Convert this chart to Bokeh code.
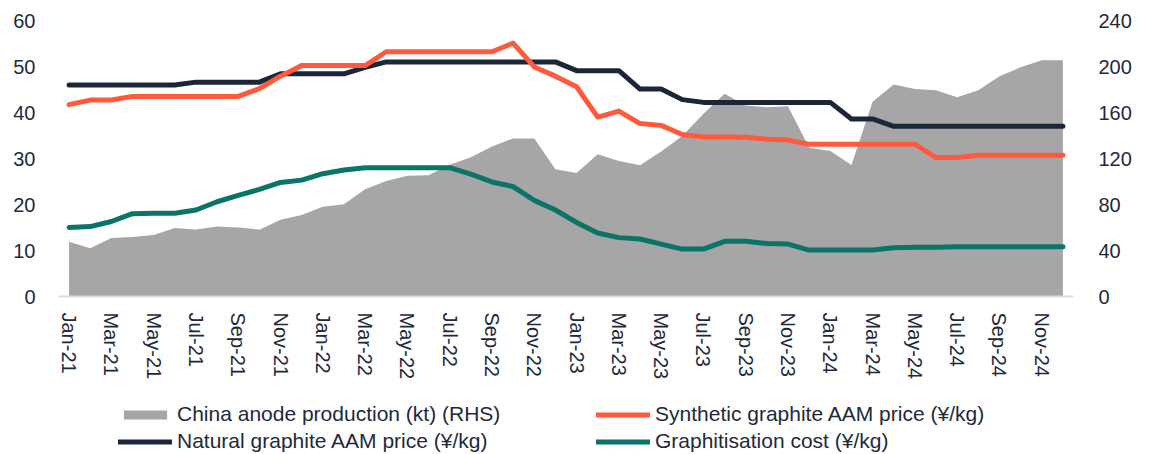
from bokeh.plotting import figure
from bokeh.models import Range1d, LinearAxis, FixedTicker, Legend, LegendItem, ColumnDataSource
from bokeh.layouts import column
from bokeh.embed import file_html
from bokeh.resources import INLINE

months = [f"{m}-{y}" for y in ["21", "22", "23", "24"] for m in
          ["Jan", "Feb", "Mar", "Apr", "May", "Jun", "Jul", "Aug", "Sep", "Oct", "Nov", "Dec"]]

production = [47.7, 41.9, 50.8, 51.7, 53.4, 59.5, 58.3, 60.9, 60.1, 58.1, 66.7, 70.8,
              78.0, 80.3, 93.3, 100.5, 105.0, 105.5, 114.5, 121.0, 130.5, 137.5, 137.5, 110.7,
              107.5, 123.7, 117.9, 114.2, 126.0, 139.5, 159.0, 176.3, 166.0, 164.6, 165.5, 129.4,
              126.5, 114.4, 169.3, 184.3, 180.5, 179.4, 173.3, 179.4, 191.5, 199.3, 205.4, 205.4]

synthetic = [41.7, 42.7, 42.7, 43.5, 43.5, 43.5, 43.5, 43.5, 43.5, 45.2, 47.9, 50.2,
             50.2, 50.2, 50.2, 53.2, 53.2, 53.2, 53.2, 53.2, 53.2, 55.1, 49.9, 47.9,
             45.6, 39.0, 40.3, 37.6, 37.2, 35.2, 34.7, 34.7, 34.6, 34.2, 34.0, 33.1,
             33.1, 33.1, 33.1, 33.1, 33.1, 30.2, 30.2, 30.7, 30.7, 30.7, 30.7, 30.7]

natural = [46.0, 46.0, 46.0, 46.0, 46.0, 46.0, 46.6, 46.6, 46.6, 46.6, 48.4, 48.4,
           48.4, 48.4, 49.8, 51.0, 51.0, 51.0, 51.0, 51.0, 51.0, 51.0, 51.0, 51.0,
           49.1, 49.1, 49.1, 45.1, 45.1, 42.8, 42.2, 42.2, 42.2, 42.2, 42.2, 42.2,
           42.2, 38.6, 38.6, 37.0, 37.0, 37.0, 37.0, 37.0, 37.0, 37.0, 37.0, 37.0]

graphitisation = [15.0, 15.2, 16.3, 18.0, 18.1, 18.1, 18.8, 20.6, 22.0, 23.3, 24.8, 25.3,
                  26.7, 27.5, 28.0, 28.0, 28.0, 28.0, 28.0, 26.6, 24.9, 23.9, 20.9, 18.8,
                  16.1, 13.8, 12.8, 12.5, 11.4, 10.3, 10.3, 12.0, 12.0, 11.5, 11.4, 10.1,
                  10.1, 10.1, 10.1, 10.6, 10.7, 10.7, 10.8, 10.8, 10.8, 10.8, 10.8, 10.8]

left_ticks = [0, 10, 20, 30, 40, 50, 60]
right_ticks = [0, 40, 80, 120, 160, 200, 240]

series_labels = ["China anode production (kt) (RHS)", "Natural graphite AAM price (¥/kg)",
                 "Synthetic graphite AAM price (¥/kg)", "Graphitisation cost (¥/kg)"]

TEXT = "#1e2a3b"
FONT = "Liberation Sans"
C_AREA = "#a6a6a6"
C_NAT = "#1c2639"
C_SYN = "#ff5a3e"
C_GRA = "#0a7567"

x = list(range(len(months)))
src = ColumnDataSource(dict(x=x, prod=production, syn=synthetic, nat=natural, gra=graphitisation,
                            zero=[0] * len(x)))

p = figure(width=1150, height=383, output_backend="svg", toolbar_location=None,
           x_range=Range1d(-0.5, len(months) - 0.5), y_range=Range1d(0, 60),
           min_border_left=58, min_border_right=77, min_border_top=20, min_border_bottom=87)
p.outline_line_color = None
p.xgrid.visible = False
p.ygrid.visible = False
p.extra_y_ranges = {"rhs": Range1d(0, 240)}

p.varea(x="x", y1="zero", y2="prod", source=src, y_range_name="rhs", fill_color=C_AREA)
p.line(x="x", y="nat", source=src, line_color=C_NAT, line_width=5, line_cap="round", line_join="round")
p.line(x="x", y="syn", source=src, line_color=C_SYN, line_width=5, line_cap="round", line_join="round")
p.line(x="x", y="gra", source=src, line_color=C_GRA, line_width=5, line_cap="round", line_join="round")

# x axis
xa = p.xaxis[0]
xa.ticker = FixedTicker(ticks=list(range(0, len(months), 2)))
xa.major_label_overrides = {i: months[i] for i in range(0, len(months), 2)}
xa.major_label_orientation = "vertical"
xa.axis_line_color = "#d6dee9"
xa.axis_line_width = 2
xa.major_tick_line_color = None
xa.minor_tick_line_color = None
xa.major_label_standoff = 10
xa.major_label_text_font = FONT
xa.major_label_text_font_size = "20px"
xa.major_label_text_color = TEXT

# left axis
ya = p.yaxis[0]
ya.ticker = FixedTicker(ticks=left_ticks)
ya.axis_line_color = None
ya.major_tick_line_color = None
ya.minor_tick_line_color = None
ya.major_label_standoff = 17
ya.major_label_text_font = FONT
ya.major_label_text_font_size = "20px"
ya.major_label_text_color = TEXT

# right axis
ra = LinearAxis(y_range_name="rhs", ticker=FixedTicker(ticks=right_ticks))
ra.axis_line_color = None
ra.major_tick_line_color = None
ra.minor_tick_line_color = None
ra.major_label_standoff = 19
ra.major_label_text_font = FONT
ra.major_label_text_font_size = "20px"
ra.major_label_text_color = TEXT
p.add_layout(ra, "right")

# legend strip (separate figure below; proxy glyphs hold a single NaN, so nothing is drawn)
q = figure(width=1150, height=71, output_backend="svg", toolbar_location=None,
           x_range=Range1d(0, 1), y_range=Range1d(0, 1), x_axis_type=None, y_axis_type=None,
           min_border_left=0, min_border_right=0, min_border_top=0, min_border_bottom=0)
q.outline_line_color = None
q.grid.visible = False
nan = [float("nan")]
g_area = q.varea(x=nan, y1=nan, y2=nan, fill_color=C_AREA)
g_nat = q.line(x=nan, y=nan, line_color=C_NAT, line_width=5, line_cap="round")
g_syn = q.line(x=nan, y=nan, line_color=C_SYN, line_width=5, line_cap="round")
g_gra = q.line(x=nan, y=nan, line_color=C_GRA, line_width=5, line_cap="round")


def make_legend(items, loc):
    lg = Legend(items=items, location=loc, orientation="vertical")
    lg.border_line_color = None
    lg.background_fill_alpha = 0
    lg.padding = 0
    lg.margin = 0
    lg.spacing = 3
    lg.label_standoff = 5
    lg.glyph_width = 54
    lg.glyph_height = 11
    lg.label_height = 22
    lg.label_text_font = FONT
    lg.label_text_font_size = "21px"
    lg.label_text_color = TEXT
    return lg


leg1 = make_legend([LegendItem(label=series_labels[0], renderers=[g_area]),
                    LegendItem(label=series_labels[1], renderers=[g_nat])], (60, 1))
leg2 = make_legend([LegendItem(label=series_labels[2], renderers=[g_syn]),
                    LegendItem(label=series_labels[3], renderers=[g_gra])], (538, 1))
q.add_layout(leg1, "center")
q.add_layout(leg2, "center")

layout = column(p, q, spacing=0)
open("out.html", "w").write(file_html(layout, INLINE))
